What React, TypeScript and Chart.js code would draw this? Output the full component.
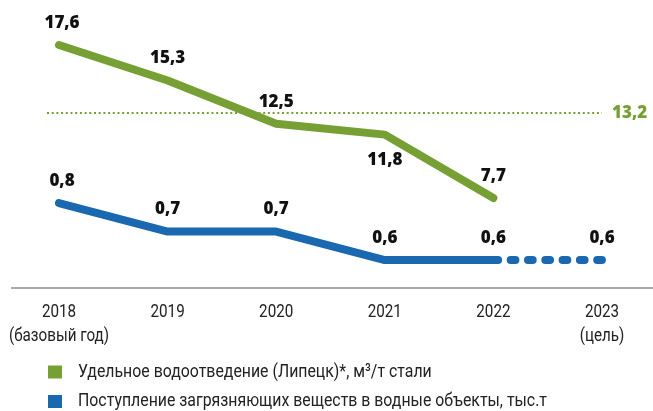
import React, { useEffect, useRef } from 'react';
import { Chart, registerables } from 'chart.js';

Chart.register(...registerables);

// ---- data ----
const years: (string | string[])[] = [['2018', '(базовый год)'], '2019', '2020', '2021', '2022', ['2023', '(цель)']];
const waterDischarge: (number | null)[] = [17.6, 15.3, 12.5, 11.8, 7.7, null];
const waterTarget = 13.2;
const pollutants: number[] = [0.8, 0.7, 0.7, 0.6, 0.6, 0.6];
const waterLabel = 'Удельное водоотведение (Липецк)*, м³/т стали';
const pollutantLabel = 'Поступление загрязняющих веществ в водные объекты, тыс.т';

// ---- style ----
const GREEN = '#77a034';
const BLUE = '#1a68b0';
const NARROW = "'Roboto', 'Liberation Sans', sans-serif";
const BOLD = "'Open Sans', 'DejaVu Sans', sans-serif";

const fmt = (v: number) => v.toFixed(1).replace('.', ',');

const drawCondensed = (ctx: any, text: string, x: number, y: number, sx: number) => {
  ctx.save();
  ctx.translate(x, y);
  ctx.scale(sx, 1);
  ctx.fillText(text, 0, 0);
  ctx.restore();
};

const overlay = {
  id: 'overlay',
  beforeDatasetsDraw(chart: any) {
    const ctx = chart.ctx;
    const xs = chart.scales.x;
    const yG = chart.scales.yG;
    const area = chart.chartArea;
    ctx.save();
    // base axis line
    ctx.strokeStyle = '#8c8c8c';
    ctx.lineWidth = 1.5;
    ctx.beginPath();
    ctx.moveTo(11, area.bottom);
    ctx.lineTo(chart.width, area.bottom);
    ctx.stroke();
    // target dotted line
    const ty = yG.getPixelForValue(waterTarget);
    ctx.strokeStyle = GREEN;
    ctx.lineWidth = 2;
    ctx.setLineDash([2, 2.7]);
    ctx.beginPath();
    ctx.moveTo(xs.getPixelForValue(0) - 12, ty);
    ctx.lineTo(xs.getPixelForValue(years.length - 1), ty);
    ctx.stroke();
    ctx.setLineDash([]);
    ctx.fillStyle = GREEN;
    ctx.font = `800 17px ${BOLD}`;
    ctx.textAlign = 'left';
    ctx.textBaseline = 'middle';
    ctx.fillText(fmt(waterTarget), xs.getPixelForValue(years.length - 1) + 10, ty);
    // category labels (condensed)
    ctx.fillStyle = '#222';
    ctx.font = `19px ${NARROW}`;
    ctx.textAlign = 'center';
    years.forEach((lab, i) => {
      const lines = Array.isArray(lab) ? lab : [lab];
      const x = xs.getPixelForTick(i);
      lines.forEach((ln, j) => {
        drawCondensed(ctx, ln, x, area.bottom + 24 + j * 24, 0.8);
      });
    });
    ctx.restore();
  },
  afterDatasetsDraw(chart: any) {
    const ctx = chart.ctx;
    ctx.save();
    ctx.font = `800 17px ${BOLD}`;
    ctx.fillStyle = '#111';
    ctx.textAlign = 'center';
    ctx.textBaseline = 'middle';
    chart.data.datasets.forEach((ds: any, di: number) => {
      const meta = chart.getDatasetMeta(di);
      const below: number[] = ds.labelsBelow || [];
      meta.data.forEach((el: any, i: number) => {
        const v = ds.data[i];
        if (v == null) return;
        const dy = below.includes(i) ? 26 : -22;
        ctx.fillText(fmt(v), el.x + (i === 0 ? 3 : 0), el.y + dy);
      });
    });
    // legend
    const area = chart.chartArea;
    ctx.font = `19px ${NARROW}`;
    ctx.textAlign = 'left';
    chart.data.datasets.forEach((ds: any, i: number) => {
      const cy = area.bottom + 84 + i * 29.5;
      ctx.fillStyle = ds.borderColor;
      ctx.fillRect(48, cy - 6.5, 14, 13);
      ctx.fillStyle = '#222';
      drawCondensed(ctx, ds.label, 78, cy, 0.835);
    });
    ctx.restore();
  },
};

export default function App() {
  const ref = useRef<HTMLCanvasElement>(null);
  useEffect(() => {
    if (!ref.current) return;
    const chart = new Chart(ref.current, {
      type: 'line',
      data: {
        labels: years,
        datasets: [
          {
            label: waterLabel,
            data: waterDischarge,
            yAxisID: 'yG',
            borderColor: GREEN,
            backgroundColor: GREEN,
            borderWidth: 8,
            borderCapStyle: 'round',
            borderJoinStyle: 'round',
            pointRadius: 0,
            tension: 0,
            labelsBelow: [3],
          } as any,
          {
            label: pollutantLabel,
            data: pollutants,
            yAxisID: 'yB',
            borderColor: BLUE,
            backgroundColor: BLUE,
            borderWidth: 8,
            borderCapStyle: 'round',
            borderJoinStyle: 'round',
            pointRadius: 0,
            tension: 0,
            segment: {
              borderDash: (c: any) => (c.p1DataIndex === years.length - 1 ? [4.7, 12.6] : undefined),
            },
          } as any,
        ],
      },
      options: {
        animation: false,
        responsive: false,
        layout: { padding: { left: 59, right: 51, top: 10, bottom: 0 } },
        plugins: { legend: { display: false }, tooltip: { enabled: false } },
        scales: {
          x: {
            offset: false,
            grid: { display: false, drawTicks: false },
            border: { display: false },
            ticks: { display: false, autoSkip: false, maxRotation: 0 },
            afterFit: (s: any) => {
              s.height = 123;
            },
          },
          yG: { display: false, min: 1.872, max: 19.865 },
          yB: { display: false, min: 0.502, max: 1.477 },
        },
      },
      plugins: [overlay],
    });
    return () => chart.destroy();
  }, []);
  return (
    <div style={{ position: 'fixed', left: 0, top: 0, width: 653, height: 411, background: '#fff' }}>
      <canvas ref={ref} width={653} height={411} style={{ display: 'block' }} />
    </div>
  );
}
